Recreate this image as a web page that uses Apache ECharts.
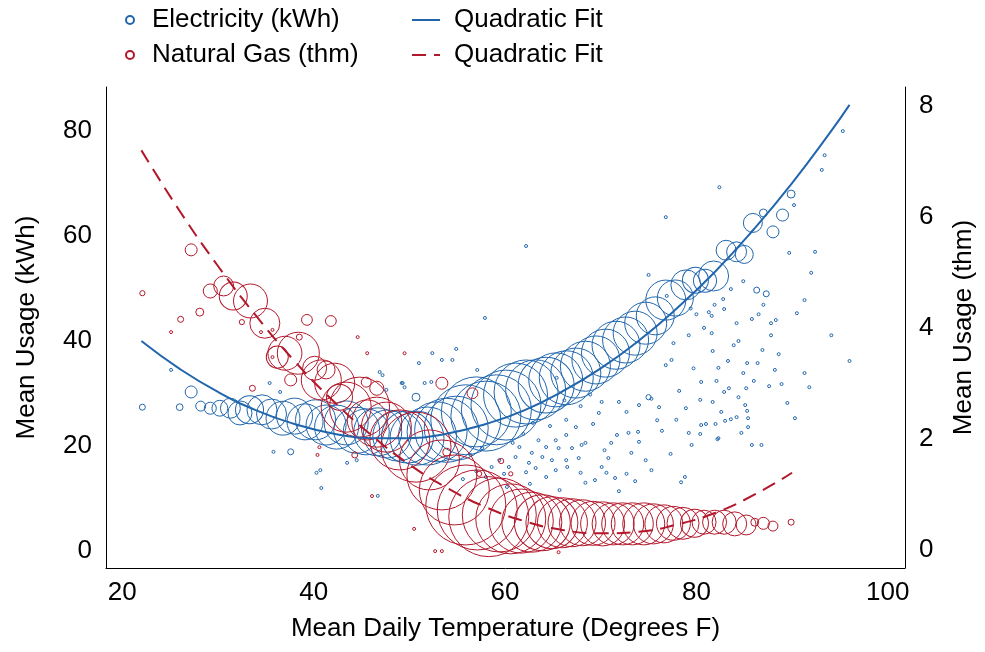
<!DOCTYPE html>
<html>
<head>
<meta charset="UTF-8">
<title>Usage vs temperature</title>
<script src="https://cdn.jsdelivr.net/npm/echarts@6/dist/echarts.min.js"></script>
</head>
<body style="margin:0">
<div id="main" style="width:985px;height:652px"></div>
<script>
// tick labels
var tempTicks = [20, 40, 60, 80, 100];
var kwhTicks = [0, 20, 40, 60, 80];
var thmTicks = [0, 2, 4, 6, 8];

// electricity: [mean temp, mean kWh, number of days]
var elecBubbles = [
  [22.1, 27.4, 4], [26, 27.4, 5], [27.2, 30.3, 16], [28.2, 27.6, 11], [29.2, 27.2, 16],
  [30.2, 27.2, 28], [31.3, 27.2, 44], [32.3, 26.3, 64], [33.3, 26.9, 87], [34.6, 26.9, 100],
  [35.6, 26.1, 100], [36.8, 25.3, 128], [38, 25.7, 144], [39.1, 24.6, 144], [40.2, 25, 178],
  [41.3, 24, 178], [42.4, 23.6, 215], [43.4, 24.4, 215], [44.5, 23, 235], [45.5, 22.7, 235],
  [46.7, 22.7, 256], [47.7, 22.3, 256], [48.8, 21.9, 278], [49.8, 21.7, 300], [50.8, 21.5, 324],
  [51.9, 21.9, 374], [52.9, 22.7, 400], [53.9, 23, 455], [54.9, 23.4, 455], [55.9, 25, 544],
  [57, 26.5, 544], [58, 25.7, 544], [59.1, 26.9, 544], [60.1, 27.8, 544], [61.1, 29.7, 455],
  [62.2, 30.3, 455], [63.2, 30.7, 400], [64.3, 31.6, 348], [65.3, 32.6, 324], [66.4, 33, 324],
  [67.4, 33.9, 278], [68.4, 35.2, 278], [69.5, 36.4, 256], [70.5, 37.7, 256], [71.6, 39.2, 256],
  [72.6, 40.2, 235], [73.6, 41.5, 215], [74.7, 43.4, 196], [75.7, 44.8, 160], [76.8, 47.8, 178],
  [77.8, 48.2, 144], [78.9, 50.7, 100], [79.9, 51.6, 75], [80.9, 51.5, 59], [81.8, 52.4, 100],
  [83.1, 57.3, 44], [84.2, 57, 44], [85, 56.5, 36], [85.9, 62.5, 40], [87, 64.4, 7],
  [88, 60.8, 16], [89, 64, 16], [89.9, 68, 7],
  [37.6, 18.9, 4], [50.7, 29.3, 7], [75, 29.3, 3], [86.3, 49.7, 4], [87.3, 49, 4]
];
// electricity: single days [mean temp, mean kWh]
var elecSingleDays = [
  [95.3, 80], [93.4, 75.4], [93.1, 72.6], [82.4, 69.3], [90.2, 65.9], [62.2, 58.1], [76.8, 63.6],
  [89.7, 56.8], [92.4, 57], [92, 53], [91.3, 47.8], [90.5, 45.3], [84.9, 51.4], [83.6, 49.9],
  [82.8, 48], [82.9, 46.1], [81.9, 46.9], [81.3, 45.5], [81.6, 44.8], [85.8, 44.2], [86.5, 45.1],
  [88.3, 44], [87, 46.9], [57.9, 44.4], [75, 52.6], [76.9, 48.6], [79.4, 46.2], [80, 45.1],
  [87.8, 43.4], [87.8, 41.1], [81.6, 41.5], [94.1, 41.1], [96, 36.2], [83.9, 39.2], [84.4, 40],
  [81.7, 38.1], [88.6, 37.5], [83.3, 36.2], [85.3, 35.8], [86.4, 35.8], [82.3, 34.9], [88.2, 34.5],
  [91.3, 33.9], [84.9, 33.9], [80.5, 32.2], [82.1, 32.4], [86, 32.4], [87.6, 31.4], [88.9, 31.8],
  [91.8, 31.2], [83.4, 31], [85.2, 31], [82.9, 30.3], [84.4, 29.3], [80.4, 28.8], [81.7, 28.4],
  [85.1, 27.8], [85.3, 26.7], [82.6, 26.5], [85.4, 25.3], [84.2, 25.5], [83.6, 25.1], [83, 24.8],
  [81, 24.2], [80.5, 24], [82, 24.2], [85.4, 23.6], [84.7, 22.5], [80.4, 22.3], [82.2, 21.3],
  [85.8, 20.2], [86.8, 20.2],
  [52.4, 37.7], [53.4, 36.4], [54.5, 36.4], [54.9, 38.5], [57.1, 34.5], [51, 35.8], [51.6, 32],
  [52.3, 32.2], [49.3, 32], [65.4, 33], [70.1, 28.4], [71.9, 28.4], [72.7, 26.5], [74, 27.8],
  [75.3, 29], [69.8, 26.3], [71.7, 22.1], [72.9, 22.5], [71.1, 20.6], [74, 20.8], [77.9, 25],
  [78.9, 27.2], [79.2, 22.5], [82.3, 21.5], [79.5, 20.2], [77.4, 36.4], [76.8, 35.4], [78.4, 13.1],
  [78.8, 14.1], [66.4, 25], [67.4, 23.6], [68, 20.2], [68.4, 20.6], [66.4, 22.1], [65.3, 21.1],
  [65.6, 19.6], [67, 19.6], [66.4, 17.3], [67.7, 17.7], [66.5, 16], [67.9, 14.9], [68.4, 13],
  [69.4, 13.5], [70.1, 16], [70.6, 14.9], [70.8, 17.7], [71.5, 13.9], [72.7, 14.7], [73.6, 13.3],
  [74.7, 17.3], [75.3, 15.4], [73.2, 18.7], [63.5, 21.1], [64.3, 19.8], [62.8, 18.7], [63.9, 17.9],
  [64.9, 17.3], [62.5, 16.8], [63.2, 15.8], [65.3, 15.4], [62.2, 15], [64.3, 14.1], [61.1, 17.9],
  [61.5, 19.8], [60.4, 16], [59.4, 17.3], [58.6, 16], [59.9, 14.7], [58, 14.1], [57, 15.2],
  [25.1, 34.5], [35.8, 18.9], [35.4, 32], [36.5, 30.3], [40.3, 14.9], [40.7, 15.4], [40.8, 12],
  [43.5, 16.8], [44.5, 17.3], [46.7, 10.5], [46.9, 34.1], [49.2, 32], [49.5, 31.2], [47.2, 33.5],
  [47.6, 30.7], [61.9, 22.3], [60.8, 20.6], [62.9, 24.4], [64.7, 23.8], [69.2, 24.2], [70.4, 19.2],
  [76.4, 22.9], [77.3, 18.5], [75.9, 24.9], [78.2, 30.5], [79.7, 34.8], [77.6, 39.6], [79.2, 41.1],
  [80.8, 42.5], [84.2, 43.4], [86.9, 38.3], [89.5, 28.2], [90.3, 25.3], [55.6, 13.7], [56.4, 18.3],
  [57.6, 19.6], [60.2, 12.2], [62.6, 12.8], [65.7, 11.6], [71.9, 11.4], [73.9, 22.7], [76.1, 27.4],
  [67.9, 27.6], [68.9, 29.8], [66.2, 28.7]
];

// natural gas: [mean temp, mean thm, number of days]
var gasBubbles = [
  [22.1, 4.62, 3], [26.1, 4.15, 4], [27.2, 5.40, 16], [28.1, 4.28, 7], [29.2, 4.66, 22],
  [30.6, 4.75, 44], [31.6, 4.57, 87], [33.4, 4.48, 128], [34.9, 4.08, 100], [32.5, 4.10, 3],
  [39.3, 4.14, 13], [41.8, 4.12, 13], [37.0, 3.54, 128], [38.4, 3.54, 196], [36.2, 3.47, 54],
  [37.6, 3.06, 16], [41.3, 3.24, 36], [40.1, 3.27, 64], [40.8, 3.06, 178], [42.2, 3.00, 178],
  [42.7, 2.75, 75], [43.4, 2.57, 278], [44.8, 2.57, 400], [45.5, 3.02, 11], [46.6, 2.91, 22],
  [33.6, 2.91, 4], [38.5, 3.83, 4], [44.3, 1.71, 4], [46.6, 2.30, 278], [45.6, 2.34, 178],
  [47.6, 2.21, 278], [49.0, 1.98, 400], [50.7, 1.85, 544], [53.4, 3.00, 16], [56.6, 2.82, 13],
  [53.9, 1.76, 7], [59.6, 1.60, 3], [60.6, 1.37, 2], [57.3, 1.37, 3],
  [52.1, 1.62, 400], [53.4, 1.35, 544], [54.7, 1.08, 544], [55.9, 0.81, 711], [57.1, 0.72, 711],
  [58.3, 0.60, 711], [59.4, 0.63, 608], [60.6, 0.56, 544], [61.7, 0.52, 455], [62.8, 0.50, 400],
  [63.9, 0.49, 348], [64.9, 0.49, 300], [66.0, 0.49, 278], [67.0, 0.49, 256], [68.1, 0.49, 235],
  [69.2, 0.48, 215], [70.2, 0.47, 215], [71.3, 0.47, 196], [72.3, 0.47, 196], [73.3, 0.47, 196],
  [74.5, 0.47, 196], [75.5, 0.47, 178], [76.6, 0.47, 160], [77.6, 0.48, 128], [78.6, 0.48, 114],
  [79.8, 0.48, 87], [80.8, 0.50, 64], [81.9, 0.50, 64], [82.9, 0.50, 64], [84.0, 0.47, 64],
  [85.2, 0.45, 44], [86.1, 0.50, 7], [87.0, 0.48, 16], [88.0, 0.43, 11], [89.9, 0.50, 4]
];
// natural gas: single days [mean temp, mean thm]
var gasSingleDays = [
  [25.1, 3.92], [34.5, 3.92], [35.7, 3.96], [35.7, 3.47], [44.6, 3.83], [45.6, 3.54], [49.5, 3.54],
  [40.4, 1.71], [40.6, 1.85], [46.1, 0.97], [50.5, 0.38], [52.7, -0.02], [53.4, -0.02], [65.6, -0.04]
];

// quadratic fits
var elecFitTemp = [22, 26, 30, 34, 38, 42, 46, 50, 54, 58, 62, 66, 70, 74, 78, 82, 86, 90, 94, 96];
var elecFitKwh = [40.0, 34.7, 30.3, 26.8, 24.2, 22.4, 21.5, 21.5, 22.4, 24.2, 26.8, 30.4, 34.8, 40.1, 46.3, 53.3, 61.3, 70.1, 79.8, 85.0];
var gasFitTemp = [22, 26, 30, 34, 38, 42, 46, 50, 54, 58, 62, 66, 70, 74, 78, 82, 86, 90];
var gasFitThm = [7.19, 6.10, 5.11, 4.21, 3.40, 2.69, 2.07, 1.54, 1.11, 0.77, 0.52, 0.36, 0.30, 0.33, 0.46, 0.67, 0.99, 1.39];

var BLUE = '#2166ac';
var RED = '#b2182b';
var FONT = 'Liberation Sans, Arial, sans-serif';

function withDays(list) {
  return list.map(function (d) { return [d[0], d[1], 1]; });
}
function pairs(xs, ys) {
  return xs.map(function (x, i) { return [x, ys[i]]; });
}
function bubbleSize(v) { return Math.sqrt(v[2]) * 3; }

var myChart = echarts.init(document.getElementById('main'));
var option = {
  animation: false,
  textStyle: { fontFamily: FONT, color: '#000' },
  grid: { left: 106, right: 78, top: 87, bottom: 84 },
  legend: [{
    data: ['Electricity (kWh)', 'Natural Gas (thm)'],
    orient: 'vertical', left: 120, top: 2,
    itemWidth: 34, itemHeight: 8, itemGap: 9,
    textStyle: { fontSize: 26, color: '#000', fontFamily: FONT }
  }, {
    data: ['Quadratic Fit (kWh)', 'Quadratic Fit (thm)'],
    formatter: function () { return 'Quadratic Fit'; },
    orient: 'vertical', left: 406, top: 2,
    itemWidth: 28, itemHeight: 14, itemGap: 9,
    itemStyle: { opacity: 0 },
    textStyle: { fontSize: 26, color: '#000', fontFamily: FONT, padding: [0, 0, 0, 9] }
  }],
  xAxis: {
    type: 'value', min: 18.3, max: 101.8,
    name: 'Mean Daily Temperature (Degrees F)', nameLocation: 'middle', nameGap: 48,
    nameTextStyle: { fontSize: 26, color: '#000' },
    axisLine: { show: true, onZero: false, lineStyle: { color: '#000', width: 1 } },
    axisTick: { show: false }, splitLine: { show: false },
    axisLabel: { customValues: tempTicks, fontSize: 26, color: '#000', margin: 12 }
  },
  yAxis: [{
    type: 'value', min: -3.24, max: 88.4, position: 'left',
    name: 'Mean Usage (kWh)', nameLocation: 'middle', nameGap: 66,
    nameTextStyle: { fontSize: 26, color: '#000' },
    axisLine: { show: true, onZero: false, lineStyle: { color: '#000', width: 1 } },
    axisTick: { show: false }, splitLine: { show: false },
    axisLabel: { customValues: kwhTicks, fontSize: 26, color: '#000', margin: 14 }
  }, {
    type: 'value', min: -0.324, max: 8.33, position: 'right',
    name: 'Mean Usage (thm)', nameLocation: 'middle', nameGap: 46,
    nameTextStyle: { fontSize: 26, color: '#000' },
    axisLine: { show: true, onZero: false, lineStyle: { color: '#000', width: 1 } },
    axisTick: { show: false }, splitLine: { show: false },
    axisLabel: { customValues: thmTicks, fontSize: 26, color: '#000', margin: 14 }
  }],
  series: [{
    name: 'Electricity (kWh)', type: 'scatter', yAxisIndex: 0,
    data: elecBubbles.concat(withDays(elecSingleDays)),
    symbolSize: bubbleSize,
    itemStyle: { color: 'transparent', borderColor: BLUE, borderWidth: 1, opacity: 1 }
  }, {
    name: 'Natural Gas (thm)', type: 'scatter', yAxisIndex: 1,
    data: gasBubbles.concat(withDays(gasSingleDays)),
    symbolSize: bubbleSize,
    itemStyle: { color: 'transparent', borderColor: RED, borderWidth: 1, opacity: 1 }
  }, {
    name: 'Quadratic Fit (kWh)', type: 'line', yAxisIndex: 0,
    data: pairs(elecFitTemp, elecFitKwh), smooth: true, symbol: 'none',
    lineStyle: { color: BLUE, width: 2 }, itemStyle: { color: BLUE }
  }, {
    name: 'Quadratic Fit (thm)', type: 'line', yAxisIndex: 1,
    data: pairs(gasFitTemp, gasFitThm), smooth: true, symbol: 'none',
    lineStyle: { color: RED, width: 2, type: [14, 8] }, itemStyle: { color: RED }
  }]
};
myChart.setOption(option);
</script>
</body>
</html>
